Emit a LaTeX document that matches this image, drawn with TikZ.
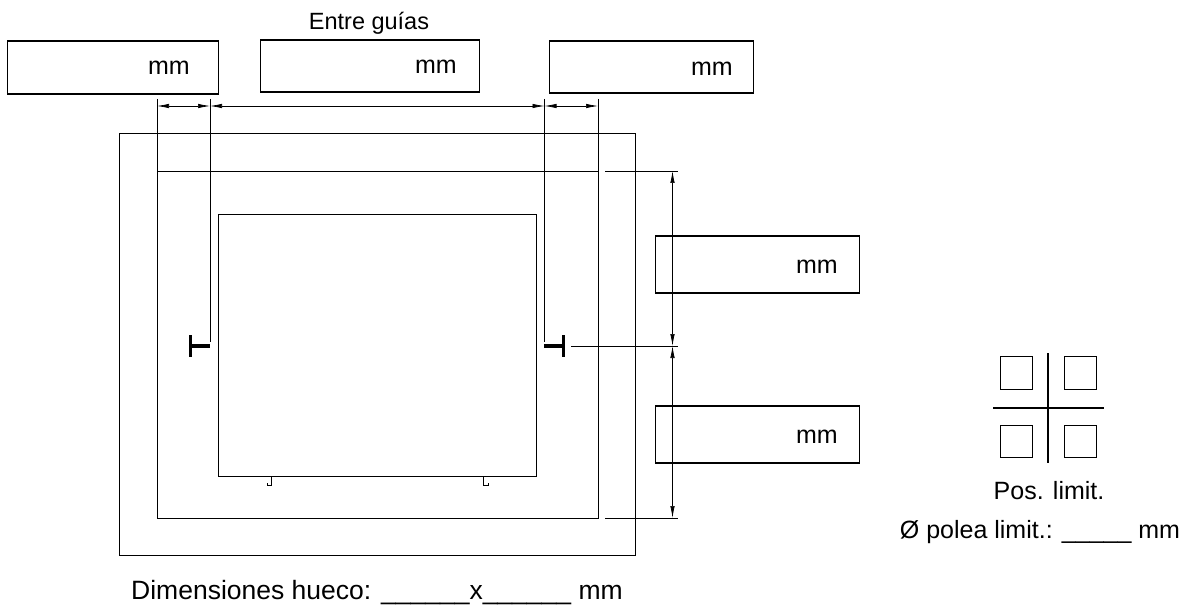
\documentclass[tikz,border=0pt]{standalone}
\usepackage{fontspec}
\setmainfont{Liberation Sans}
\usetikzlibrary{arrows.meta}
\begin{document}
\begin{tikzpicture}[x=1pt,y=-1pt,
 thin line/.style={line width=0.9pt,draw=black},
 dimline/.style={line width=0.7pt,draw=black,{Latex[length=12pt,width=4.5pt]}-{Latex[length=12pt,width=4.5pt]}},
 inbox/.style={draw=black,line width=1.7pt,fill=white,anchor=north west,inner sep=0pt},
 unitlab/.style={font=\fontsize{25}{28}\selectfont,anchor=base east,inner sep=0pt},
 lab/.style={font=\fontsize{25}{28}\selectfont,anchor=base,inner sep=0pt},
 tee/.style={line width=3.2pt,draw=black},
 tee bar/.style={line width=2.8pt,draw=black}]
\useasboundingbox (0,0) rectangle (1187,607);
\node[inbox,minimum width=211pt,minimum height=53pt] (b1) at (6.5,40) {};
\node[inbox,minimum width=219pt,minimum height=52pt] (b2) at (259.5,39) {};
\node[inbox,minimum width=204pt,minimum height=52pt] (b3) at (548.5,40) {};
\node[inbox,minimum width=204pt,minimum height=57pt] (b4) at (654.5,235) {};
\node[inbox,minimum width=204pt,minimum height=57pt] (b5) at (654.5,405) {};
\node[unitlab] (u1) at (190,75) {mm};
\node[unitlab] (u2) at (457,74) {mm};
\node[unitlab] (u3) at (733,76) {mm};
\node[unitlab] (u4) at (838,273) {mm};
\node[unitlab] (u5) at (838,443) {mm};
\node[lab,font=\fontsize{23.5}{26}\selectfont] (t0) at (369,30) {Entre guías};
\node[thin line,draw,minimum width=516pt,minimum height=422pt,anchor=north west,inner sep=0pt] (outer) at (119,133) {};
\node[thin line,draw,minimum width=441pt,minimum height=347pt,anchor=north west,inner sep=0pt] (shaft) at (157,171) {};
\node[thin line,draw,minimum width=318pt,minimum height=262pt,anchor=north west,inner sep=0pt] (cab) at (218,214) {};
\coordinate (a1) at (157,106); \coordinate (a2) at (210,106); \coordinate (a3) at (544.5,106); \coordinate (a4) at (598,106);
\draw[thin line] (157,99) -- (157,171);
\draw[thin line] (598,99) -- (598,171);
\draw[thin line] (210,99) -- (210,342);
\draw[thin line] (544.5,99) -- (544.5,342);
\draw[dimline] (a1) -- (a2);
\draw[dimline] (a2) -- (a3);
\draw[dimline] (a3) -- (a4);
\draw[tee bar] (190.5,335) -- (190.5,357);
\draw[tee] (190.5,346) -- (210,346);
\draw[tee bar] (563.5,335) -- (563.5,357);
\draw[tee] (544,346) -- (563.5,346);
\draw[thin line] (605,171) -- (678,171);
\draw[thin line] (605,518) -- (678,518);
\draw[thin line] (571,346) -- (678,346);
\coordinate (d1) at (672.5,171); \coordinate (d2) at (672.5,346); \coordinate (d3) at (672.5,518);
\draw[dimline] (d1) -- (d2);
\draw[dimline] (d2) -- (d3);
\draw[thin line] (271,476) -- (271,485) -- (267,485) -- (267,483);
\draw[thin line] (483,476) -- (483,485) -- (488,485) -- (488,483);
\node[thin line,draw,minimum size=32.5pt,inner sep=0pt] (q1) at (1016.5,373) {};
\node[thin line,draw,minimum size=32.5pt,inner sep=0pt] (q2) at (1080.5,373) {};
\node[thin line,draw,minimum size=32.5pt,inner sep=0pt] (q3) at (1016.5,441.5) {};
\node[thin line,draw,minimum size=32.5pt,inner sep=0pt] (q4) at (1080.5,441.5) {};
\draw[line width=1.6pt] (993,408) -- (1104,408);
\draw[line width=1.1pt] (1048,353) -- (1048,463);
\node[lab] (t1) at (1049,499) {Pos. limit.};
\node[lab] (t2) at (1040,538) {Ø polea limit.: \_\_\_\_\_ mm};
\node[lab,font=\fontsize{26.5}{29}\selectfont] (t3) at (377,599) {Dimensiones hueco: \_\_\_\_\_\_x\_\_\_\_\_\_ mm};
\end{tikzpicture}
\end{document}
